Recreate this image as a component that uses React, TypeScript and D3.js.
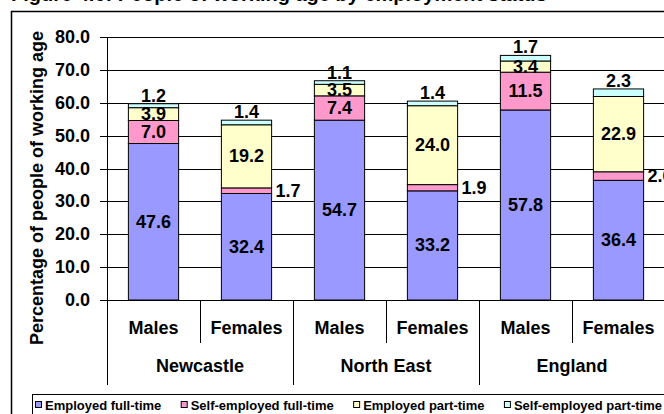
import React from "react";
import * as d3 from "d3";

const categories = ["Males", "Females", "Males", "Females", "Males", "Females"];
const groups = ["Newcastle", "North East", "England"];
const seriesNames = ["Employed full-time", "Self-employed full-time", "Employed part-time", "Self-employed part-time"];
const employedFT = [47.6, 32.4, 54.7, 33.2, 57.8, 36.4];
const selfEmployedFT = [7.0, 1.7, 7.4, 1.9, 11.5, 2.6];
const employedPT = [3.9, 19.2, 3.5, 24.0, 3.4, 22.9];
const selfEmployedPT = [1.2, 1.4, 1.1, 1.4, 1.7, 2.3];
const yTicks = [0, 10, 20, 30, 40, 50, 60, 70, 80];
const colors = ["#9999FF", "#FF99CC", "#FFFFCC", "#CCFFFF"];

const FONT = "'Liberation Sans', Arial, Helvetica, sans-serif";

function measure(text: string, size: number): number {
  if (typeof document === "undefined") return text.length * size * 0.55;
  const c = document.createElement("canvas").getContext("2d");
  if (!c) return text.length * size * 0.55;
  c.font = `bold ${size}px 'Liberation Sans', Arial, sans-serif`;
  return c.measureText(text).width;
}

export default function App() {
  const W = 664, H = 414;
  const left = 107, right = 665, top = 37, bottom = 300;
  const y = d3.scaleLinear().domain([0, 80]).range([bottom, top]);
  const idx = categories.map((_, i) => i);
  const x = d3.scaleBand<number>().domain(idx).range([left, right]).paddingInner(0.46).paddingOuter(0.23);
  const step = x.step();

  const series = [employedFT, selfEmployedFT, employedPT, selfEmployedPT];
  const rows = idx.map(i => ({ i, v0: employedFT[i], v1: selfEmployedFT[i], v2: employedPT[i], v3: selfEmployedPT[i] }));
  const stack = d3.stack<any>().keys(["v0", "v1", "v2", "v3"])(rows);

  const labels: any[] = [];
  stack.forEach((layer, s) => {
    layer.forEach((d, i) => {
      const val = series[s][i];
      const cx = (x(i) as number) + x.bandwidth() / 2;
      const cy = (y(d[0]) + y(d[1])) / 2;
      const isFemale = i % 2 === 1;
      let lx = cx, ly = cy, anchor = "middle";
      if (s === 3) {
        ly = y(d[1]) - 8;
      } else if (s === 1 && isFemale) {
        lx = (x(i) as number) + x.bandwidth() + 4;
        anchor = "start";
      }
      labels.push({ key: `${s}-${i}`, x: lx, y: ly, anchor, text: val.toFixed(1) });
    });
  });

  // legend layout
  const LFS = 13;
  const widths = seriesNames.map(n => measure(n, LFS));
  const lStart = 35, lEnd = 662, sq = 6, sqGap = 4;
  const totalItems = widths.reduce((a, b) => a + b, 0) + seriesNames.length * (sq + sqGap);
  const gap = (lEnd - lStart - totalItems) / (seriesNames.length - 1);
  const legendX: number[] = [];
  let cur = lStart;
  widths.forEach(w => { legendX.push(cur); cur += sq + sqGap + w + gap; });

  const BFS = 18;

  return (
    <svg width={W} height={H} style={{ position: "absolute", left: 0, top: 0, background: "#fff" }} fontFamily={FONT}>
      <rect x={0} y={0} width={W} height={H} fill="#fff" />
      <text x={11} y={1} fontSize={20} fontWeight="bold" fill="#000">Figure 4.6: People of working age by employment status</text>
      <line x1={11} y1={11.5} x2={W} y2={11.5} stroke="#000" strokeWidth={1.5} />
      <line x1={11.5} y1={11} x2={11.5} y2={H} stroke="#000" strokeWidth={1.5} />

      {yTicks.map(t => (
        <line key={"g" + t} x1={left - 7} x2={right} y1={Math.round(y(t)) + 0.5} y2={Math.round(y(t)) + 0.5} stroke="#000" strokeWidth={1} />
      ))}
      {yTicks.map(t => (
        <text key={"t" + t} x={90} y={y(t)} fontSize={BFS} fontWeight="bold" textAnchor="end" dominantBaseline="central">{t.toFixed(1)}</text>
      ))}
      <line x1={left + 0.5} x2={left + 0.5} y1={top} y2={bottom} stroke="#000" />

      {stack.map((layer, s) => layer.map((d, i) => (
        <rect key={`b${s}-${i}`} x={(x(i) as number)} y={y(d[1])} width={x.bandwidth()} height={y(d[0]) - y(d[1])}
          fill={colors[s]} stroke="#000" strokeWidth={1} />
      )))}

      {labels.map(l => (
        <text key={l.key} x={l.x} y={l.y} fontSize={BFS} fontWeight="bold" textAnchor={l.anchor} dominantBaseline="central">{l.text}</text>
      ))}

      {idx.map(i => {
        const bx = left + i * step;
        const isGroupEdge = i % 2 === 0;
        return <line key={"d" + i} x1={bx + 0.5} x2={bx + 0.5} y1={bottom} y2={isGroupEdge ? 385 : 343} stroke="#000" />;
      })}
      <line x1={right - 0.5} x2={right - 0.5} y1={bottom} y2={385} stroke="#000" />
      {categories.map((c, i) => (
        <text key={"c" + i} x={(x(i) as number) + x.bandwidth() / 2} y={328} fontSize={BFS} fontWeight="bold" textAnchor="middle" dominantBaseline="central">{c}</text>
      ))}
      {groups.map((g, k) => (
        <text key={"gr" + k} x={left + (k * 2 + 1) * step} y={366} fontSize={BFS} fontWeight="bold" textAnchor="middle" dominantBaseline="central">{g}</text>
      ))}

      <text transform={`translate(37,188) rotate(-90)`} fontSize={BFS} fontWeight="bold" textAnchor="middle" dominantBaseline="central">Percentage of people of working age</text>

      <rect x={32.5} y={394.5} width={660} height={40} fill="#fff" stroke="#000" strokeWidth={1} />
      {seriesNames.map((n, s) => (
        <g key={"l" + s}>
          <rect x={legendX[s] + 0.5} y={401.5} width={sq} height={sq} fill={colors[s]} stroke="#000" strokeWidth={1} />
          <text x={legendX[s] + sq + sqGap} y={405} fontSize={LFS} fontWeight="bold" dominantBaseline="central">{n}</text>
        </g>
      ))}
    </svg>
  );
}
